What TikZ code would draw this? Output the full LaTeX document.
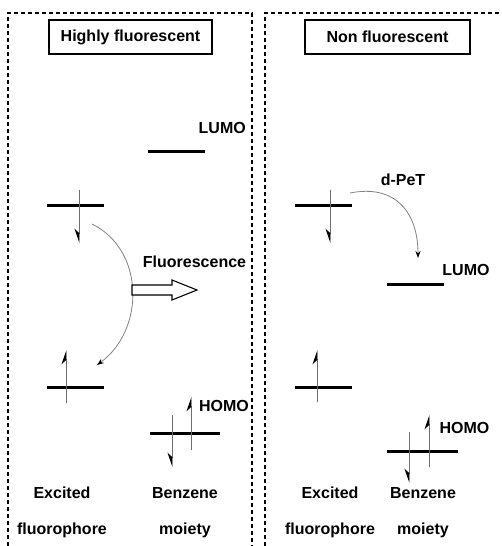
\documentclass[tikz,border=0pt]{standalone}
\usepackage{fontspec}
\setmainfont{Liberation Sans}
\usetikzlibrary{arrows.meta, positioning}
\definecolor{linecol}{RGB}{0, 0, 0}
\definecolor{spincol}{RGB}{110, 110, 110}
\definecolor{curvecol}{RGB}{130, 130, 130}
\tikzset{
  panel/.style  = {draw=linecol, dashed, dash pattern=on 4pt off 3pt,
                   line width=1.3pt},
  title/.style  = {draw=linecol, line width=1.2pt, minimum height=34pt,
                   font=\fontsize{16}{18}\selectfont\bfseries, inner sep=0pt},
  lbl/.style    = {font=\fontsize{16}{18}\selectfont\bfseries, inner sep=0pt,
                   text height=11pt, text depth=0pt},
  level/.style  = {draw=linecol, line width=3pt},
  % spin arrows end in a half head, barb always on the left of the page
  spinup/.style = {draw=spincol, line width=0.9pt,
                   -{Stealth[harpoon, length=13pt, width=9pt, black]}},
  spindn/.style = {draw=spincol, line width=0.9pt,
                   -{Stealth[harpoon, swap, length=13pt, width=9pt, black]}},
  trans/.style  = {draw=curvecol, line width=0.8pt,
                   -{Stealth[length=7pt, width=5pt, black]}},
  emit/.style   = {draw=linecol, line width=1.1pt, fill=white},
}
\begin{document}
\begin{tikzpicture}[x=1pt, y=-1pt]

  \clip (0,0) rectangle (501,546);

  %% ---------------- the two panels ----------------
  \draw[panel] (8,560) -- (8,13) -- (252,13) -- (252,560);
  \draw[panel] (265,560) -- (265,13) -- (520,13);

  \node[title, minimum width=163pt] (tl) at (130.5,37) {Highly fluorescent};
  \node[title, minimum width=165pt] (tr) at (387.5,37) {Non fluorescent};

  %% ---------------- highly fluorescent ----------------
  \draw[level] (148,151) -- (205,151);
  \node[lbl, anchor=east] (lumoL) at (246,128) {LUMO};

  \draw[level] (47,205) -- (104,205);
  \draw[spindn] (79,190) -- (79,243);

  \draw[level] (47,387) -- (104,387);
  \draw[spinup] (66,403) -- (66,350);

  \draw[level] (150,433) -- (220,433);
  \draw[spindn] (172,415) -- (172,467);
  \draw[spinup] (191,450) -- (191,397);
  \node[lbl] (homoL) at (224,406) {HOMO};

  \coordinate (exL) at (92,224);
  \coordinate (gsL) at (97,365);
  \draw[trans] (exL) .. controls (145,250) and (145,330) .. (gsL);

  \draw[emit] (132,285) -- (172,285) -- (172,280) -- (197,290)
              -- (172,300) -- (172,295) -- (132,295) -- cycle;
  \node[lbl] (fluo) at (194.5,262) {Fluorescence};

  \node[lbl] (exc1) at (62,493) {Excited};
  \node[lbl] (flu1) at (62,529) {fluorophore};
  \node[lbl] (ben1) at (185,493) {Benzene};
  \node[lbl] (moi1) at (185,529) {moiety};

  %% ---------------- non fluorescent ----------------
  \draw[level] (295,205) -- (352,205);
  \draw[spindn] (330,190) -- (330,243);

  \coordinate (exR) at (350,193);
  \coordinate (ltR) at (418,258);
  \draw[trans] (exR) .. controls (395,184) and (418,212) .. (ltR);
  \node[lbl] (dpet) at (403,180) {d-PeT};

  \draw[level] (387,284) -- (444,284);
  \node[lbl] (lumoR) at (466,270) {LUMO};

  \draw[level] (295,387) -- (352,387);
  \draw[spinup] (317,402) -- (317,350);

  \draw[level] (387,451) -- (458,451);
  \draw[spindn] (409,432) -- (409,483);
  \draw[spinup] (429,467) -- (429,415);
  \node[lbl] (homoR) at (464.5,428) {HOMO};

  \node[lbl] (exc2) at (330,493) {Excited};
  \node[lbl] (flu2) at (330,529) {fluorophore};
  \node[lbl] (ben2) at (423,493) {Benzene};
  \node[lbl] (moi2) at (423,529) {moiety};

\end{tikzpicture}
\end{document}
